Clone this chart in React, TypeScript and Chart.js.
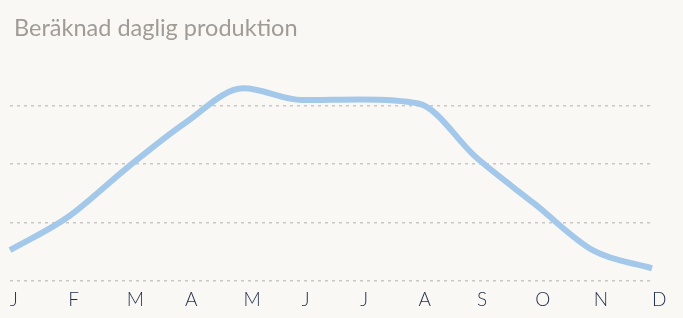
import React, { useEffect, useRef } from "react";
import { Chart, registerables } from "chart.js";

Chart.register(...registerables);

const months = ["J", "F", "M", "A", "M", "J", "J", "A", "S", "O", "N", "D"];
const production = [0.53, 1.1, 1.93, 2.7, 3.29, 3.09, 3.1, 3.03, 2.1, 1.31, 0.52, 0.22];
const gridValues = [0, 1, 2, 3];
const titleText = "Beräknad daglig produktion";

export default function App() {
  const canvasRef = useRef<HTMLCanvasElement | null>(null);

  useEffect(() => {
    document.body.style.margin = "0";
    document.body.style.background = "#f9f8f5";
    const canvas = canvasRef.current;
    if (!canvas) return;
    const chart = new Chart(canvas, {
      type: "line",
      data: {
        labels: months,
        datasets: [
          {
            data: production,
            borderColor: "#a3c8ea",
            borderWidth: 6,
            pointRadius: 0,
            cubicInterpolationMode: "monotone",
            fill: false,
          },
        ],
      },
      options: {
        responsive: false,
        animation: false,
        layout: { padding: { left: 10, right: 31, top: 76, bottom: 0 } },
        plugins: { legend: { display: false }, tooltip: { enabled: false } },
        scales: {
          x: {
            offset: false,
            grid: { display: false, drawTicks: false },
            border: { display: false },
            ticks: {
              align: "start",
              padding: 7,
              color: "#1f2d48",
              font: { family: "Lato", size: 19, weight: "300" },
              maxRotation: 0,
              autoSkip: false,
            },
          },
          y: {
            min: 0,
            max: 3.5,
            afterBuildTicks: (axis: any) => {
              axis.ticks = gridValues.map((v) => ({ value: v }));
            },
            grid: {
              color: "#cbc8c3",
              lineWidth: 1.5,
              drawTicks: false,
            },
            border: { display: false, dash: [3, 4] },
            ticks: { display: false },
          },
        },
      },
    });
    return () => chart.destroy();
  }, []);

  return (
    <div style={{ position: "relative", width: 683, height: 318, background: "#f9f8f5" }}>
      <div
        style={{
          position: "absolute",
          left: 14,
          top: 13,
          fontFamily: "Lato, sans-serif",
          fontSize: 23.5,
          fontWeight: 400,
          color: "#a09b95",
          whiteSpace: "nowrap",
        }}
      >
        {titleText}
      </div>
      <canvas ref={canvasRef} width={683} height={318} style={{ display: "block" }} />
    </div>
  );
}
